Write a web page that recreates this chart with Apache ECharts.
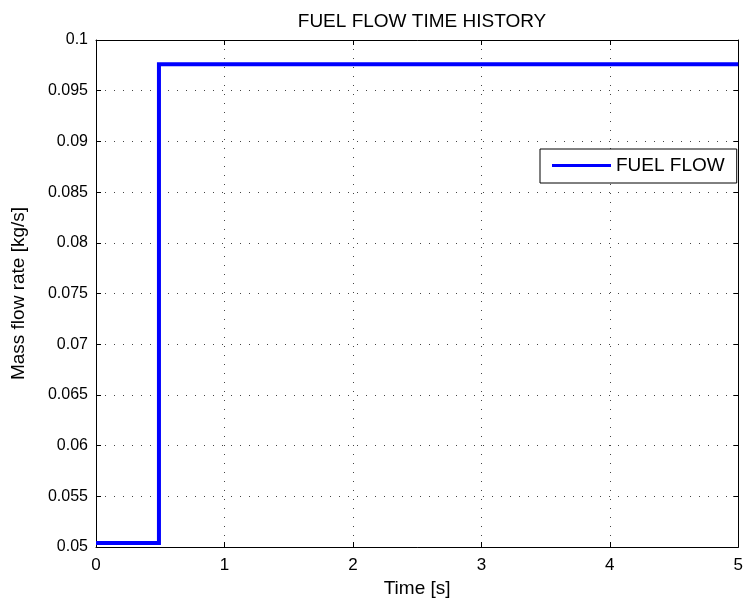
<!DOCTYPE html>
<html>
<head>
<meta charset="utf-8">
<script src="https://cdn.jsdelivr.net/npm/echarts@6/dist/echarts.min.js"></script>
<style>
  html, body { margin: 0; padding: 0; background: #fff; }
  #chart { width: 746px; height: 604px; }
</style>
</head>
<body>
<div id="chart"></div>
<script>
// Fuel flow step: time [s] and mass flow rate [kg/s]
const timeS = [0, 0.49, 0.49, 5];
const fuelFlow = [0.0504, 0.0504, 0.0976, 0.0976];
const xTicks = [0, 1, 2, 3, 4, 5];
const yTicks = [0.05, 0.055, 0.06, 0.065, 0.07, 0.075, 0.08, 0.085, 0.09, 0.095, 0.1];

const FONT = '"Liberation Sans", Arial, sans-serif';
const chart = echarts.init(document.getElementById('chart'));

const gridLine = { show: true, lineStyle: { color: '#444', type: [1, 8], width: 1 } };
const axisLine = { show: true, onZero: false, lineStyle: { color: '#000', width: 1 } };
const tickIn = { show: true, inside: true, length: 5, lineStyle: { color: '#000' } };

chart.setOption({
  animation: false,
  title: {
    text: 'FUEL FLOW TIME HISTORY',
    left: 417, top: 7, textAlign: 'center',
    textStyle: { fontFamily: FONT, fontSize: 19, fontWeight: 'normal', color: '#000' }
  },
  grid: { left: 96, right: 7, top: 40, bottom: 57 },
  legend: {
    data: ['FUEL FLOW'],
    left: 540, top: 149,
    padding: [7, 12, 8, 12],
    itemWidth: 59, itemHeight: 18, itemGap: 6,
    borderColor: '#000', borderWidth: 1,
    backgroundColor: '#fff',
    icon: 'path://M0,7.5 L59,7.5 L59,10.5 L0,10.5 Z',
    textStyle: { fontFamily: FONT, fontSize: 19, color: '#000' }
  },
  xAxis: [{
    type: 'value', min: 0, max: 5, interval: 1,
    name: 'Time [s]', nameLocation: 'middle', nameGap: 30,
    nameTextStyle: { fontFamily: FONT, fontSize: 19, color: '#000' },
    axisLine, axisTick: tickIn, splitLine: gridLine,
    axisLabel: { fontFamily: FONT, fontSize: 17, color: '#000', margin: 10,
      formatter: v => xTicks.includes(v) ? String(v) : '' }
  }, {
    type: 'value', min: 0, max: 5, interval: 1, position: 'top',
    axisLine, axisTick: tickIn, axisLabel: { show: false }, splitLine: { show: false }
  }],
  yAxis: [{
    type: 'value', min: 0.05, max: 0.1, interval: 0.005,
    name: 'Mass flow rate [kg/s]', nameLocation: 'middle', nameGap: 68,
    nameTextStyle: { fontFamily: FONT, fontSize: 19, color: '#000' },
    axisLine, axisTick: tickIn, splitLine: gridLine,
    axisLabel: { fontFamily: FONT, fontSize: 16, color: '#000', margin: 8,
      formatter: v => {
        const t = yTicks.find(y => Math.abs(y - v) < 1e-9);
        return t === undefined ? '' : String(t);
      } }
  }, {
    type: 'value', min: 0.05, max: 0.1, interval: 0.005, position: 'right',
    axisLine, axisTick: tickIn, axisLabel: { show: false }, splitLine: { show: false }
  }],
  series: [{
    name: 'FUEL FLOW',
    type: 'line',
    data: timeS.map((t, i) => [t, fuelFlow[i]]),
    showSymbol: false,
    lineStyle: { color: '#0000ff', width: 4, join: 'miter' },
    itemStyle: { color: '#0000ff' }
  }]
});
</script>
</body>
</html>
